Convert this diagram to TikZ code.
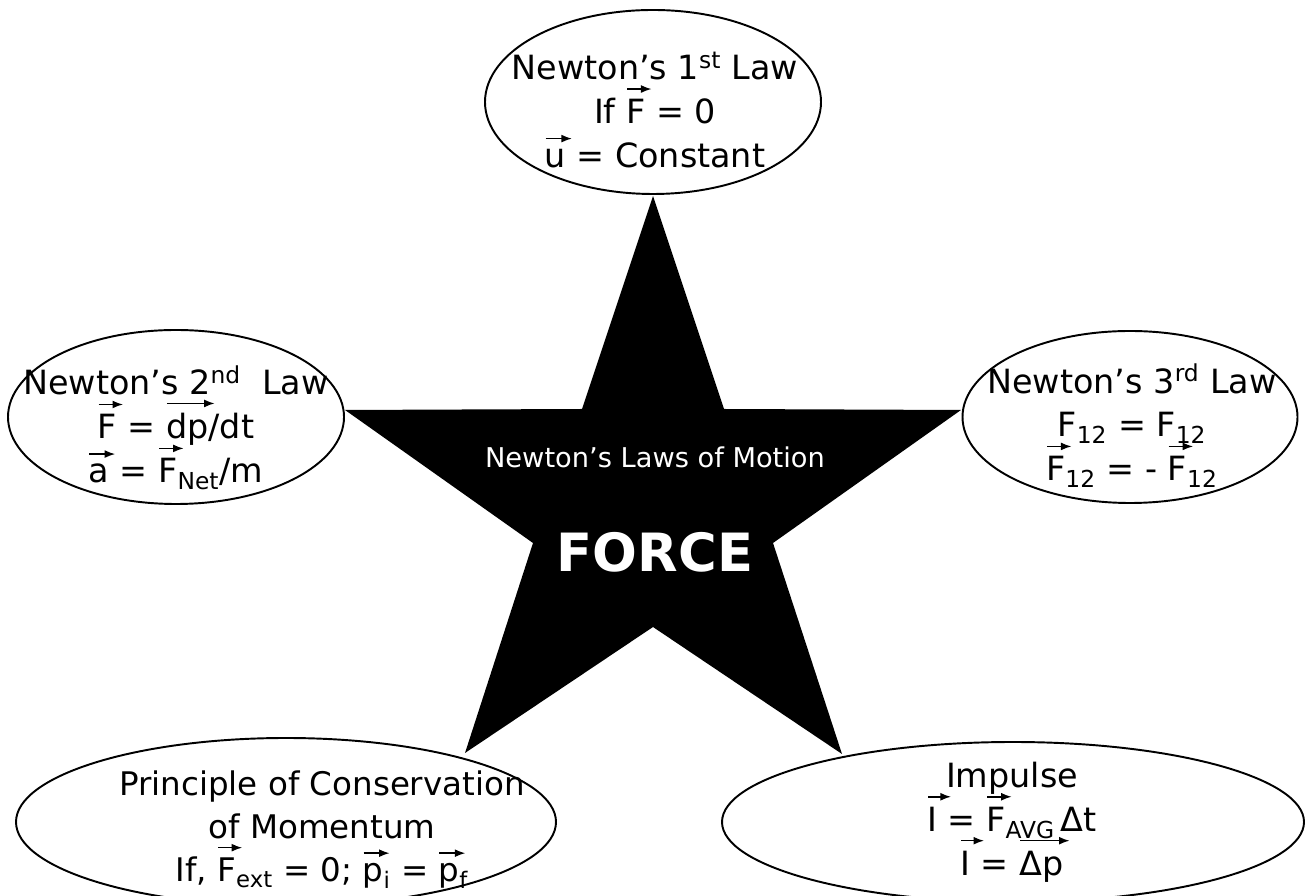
\documentclass[tikz,border=0pt]{standalone}
\usepackage{fontspec}
\setmainfont{DejaVu Sans}
\usetikzlibrary{shapes.geometric,arrows.meta}
\newsavebox{\vectbox}
\newlength{\vectlen}
\newcommand{\vect}[1]{\leavevmode\sbox{\vectbox}{#1}%
  \setlength{\vectlen}{\dimexpr\wd\vectbox+3pt\relax}%
  \ifdim\vectlen<13pt \setlength{\vectlen}{13pt}\fi
  \rlap{\smash{\raisebox{\dimexpr\ht\vectbox+3.5pt\relax}{%
    \tikz\draw[line width=0.85pt,-{Latex[length=6pt,width=4.5pt]}] (0,0) -- (\vectlen,0);}}}%
  \usebox{\vectbox}}

\begin{document}
\begin{tikzpicture}[
  law/.style={draw, ellipse, fill=white, line width=1.1pt, inner sep=0pt},
  lawtext/.style={align=center, font=\fontsize{19}{25}\selectfont},
  startext/.style={text=white, font=\fontsize{15.5}{18}\selectfont},
]
\useasboundingbox (0,0) rectangle (26.22,17.9);
% the star
\fill (13.06,13.98) -- (14.48,9.72) -- (19.22,9.70) -- (15.46,7.04) -- (16.84,2.82)
  -- (13.06,5.36) -- (9.30,2.84) -- (10.66,7.04) -- (6.90,9.70) -- (11.64,9.72) -- cycle;
\node[startext, anchor=base] (title) at (13.10,8.54) {Newton’s Laws of Motion};
\node[text=white, anchor=base, font=\bfseries\fontsize{30}{36}\selectfont] (force) at (13.10,6.46) {FORCE};
% the five laws
\node[law, minimum width=6.72cm, minimum height=3.68cm] (first) at (13.06,15.86) {};
\node[law, minimum width=6.72cm, minimum height=3.48cm] (second) at (3.52,9.56) {};
\node[law, minimum width=6.70cm, minimum height=3.44cm] (third) at (22.60,9.56) {};
\node[law, minimum width=10.8cm, minimum height=3.36cm] (momentum) at (5.72,1.46) {};
\node[law, minimum width=11.64cm, minimum height=3.2cm] (impulse) at (20.26,1.46) {};
\node[lawtext] (firsttxt) at (13.10,15.70) {Newton’s 1\textsuperscript{st} Law\\ If \vect{F} = 0\\ \vect{u} = Constant};
\node[lawtext] (secondtxt) at (3.52,9.34) {Newton’s 2\textsuperscript{nd}\ \ Law\\ \vect{F} = \vect{dp}/dt\\ \vect{a} = \vect{F}\textsubscript{Net}/m};
\node[lawtext] (thirdtxt) at (22.64,9.38) {Newton’s 3\textsuperscript{rd} Law\\ F\textsubscript{12} = F\textsubscript{12}\\ \vect{F}\textsubscript{12} = - \vect{F}\textsubscript{12}};
\node[lawtext, font=\fontsize{18.5}{24.5}\selectfont] (momentumtxt) at (6.44,1.31) {Principle of Conservation\\ of Momentum\\ If, \vect{F}\textsubscript{ext} = 0; \vect{p}\textsubscript{i} = \vect{p}\textsubscript{f}};
\node[lawtext] (impulsetxt) at (20.24,1.46) {Impulse\\ \vect{I} = \vect{F}\textsubscript{AVG}\,Δt\\ \vect{I} = \vect{Δp}};
\end{tikzpicture}
\end{document}
